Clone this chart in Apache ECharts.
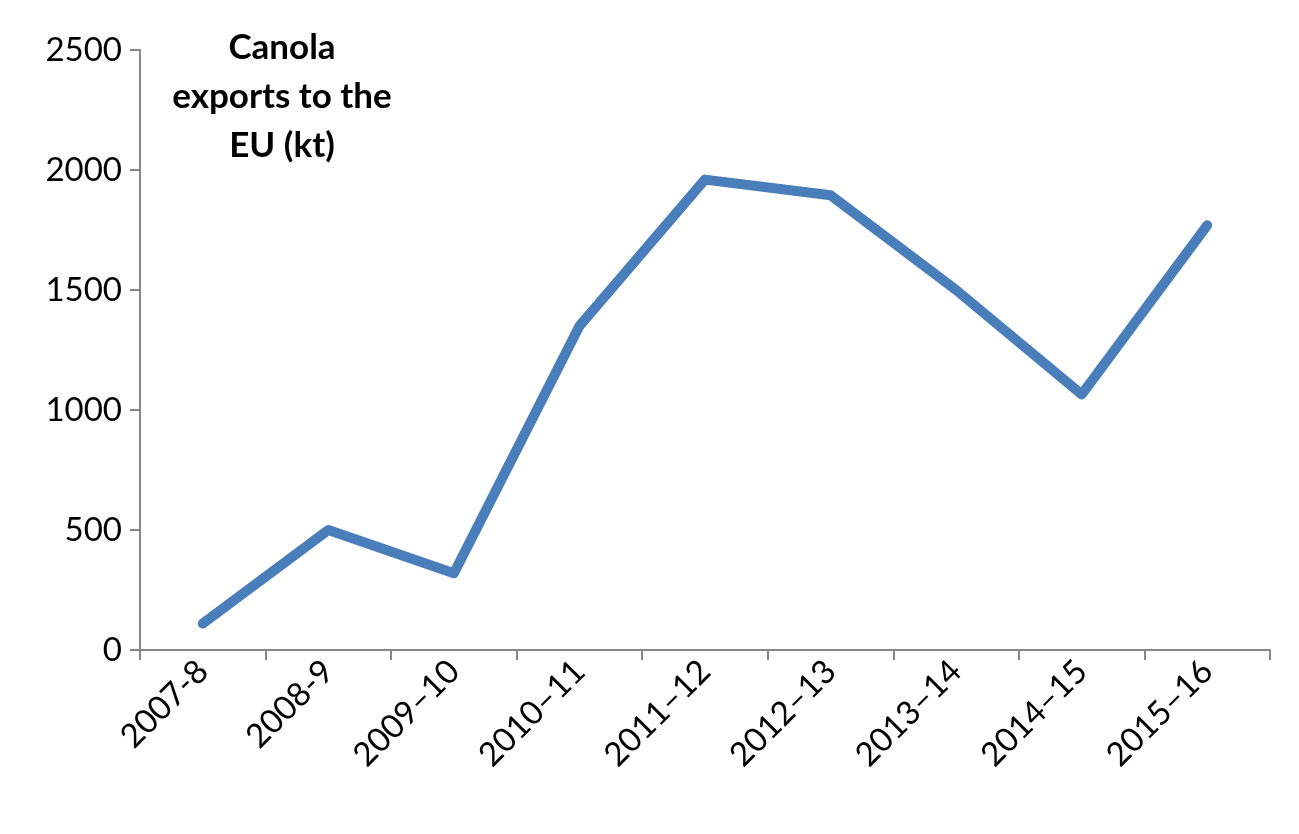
<!DOCTYPE html>
<html>
<head>
<meta charset="utf-8">
<script src="https://cdn.jsdelivr.net/npm/echarts@6/dist/echarts.min.js"></script>
<style>html,body{margin:0;background:#fff}#chart{width:1299px;height:834px}</style>
</head>
<body>
<div id="chart"></div>
<script>
var seasons = ['2007-8', '2008-9', '2009\u201310', '2010\u201311', '2011\u201312', '2012\u201313', '2013\u201314', '2014\u201315', '2015\u201316'];
var exportsEU = [110, 500, 320, 1350, 1960, 1895, 1500, 1065, 1770];

var chart = echarts.init(document.getElementById('chart'));
var font = 'Lato, "Open Sans", sans-serif';
chart.setOption({
    animation: false,
    title: {
        text: 'Canola\nexports to the\nEU (kt)',
        left: 277, top: 18, textAlign: 'center',
        textStyle: {fontFamily: font, fontSize: 35, fontWeight: 'bold', color: '#000', lineHeight: 49, align: 'center'}
    },
    grid: {left: 140, right: 29, top: 50, bottom: 184},
    xAxis: {
        type: 'category',
        data: seasons,
        boundaryGap: true,
        axisLine: {lineStyle: {color: '#868686', width: 2}},
        axisTick: {show: true, length: 10, lineStyle: {color: '#868686', width: 2}},
        axisLabel: {rotate: 45, fontFamily: font, fontSize: 33, color: '#000', margin: 16}
    },
    yAxis: {
        type: 'value', min: 0, max: 2500, interval: 500,
        splitLine: {show: false},
        axisLine: {show: true, lineStyle: {color: '#868686', width: 2}},
        axisTick: {show: true, length: 10, lineStyle: {color: '#868686', width: 2}},
        axisLabel: {fontFamily: font, fontSize: 33, color: '#000', margin: 18, formatter: function (v) { return String(v); }}
    },
    series: [{
        type: 'line',
        data: exportsEU,
        symbol: 'none',
        lineStyle: {color: '#4a7ebb', width: 10, cap: 'round', join: 'round'}
    }]
});
</script>
</body>
</html>
